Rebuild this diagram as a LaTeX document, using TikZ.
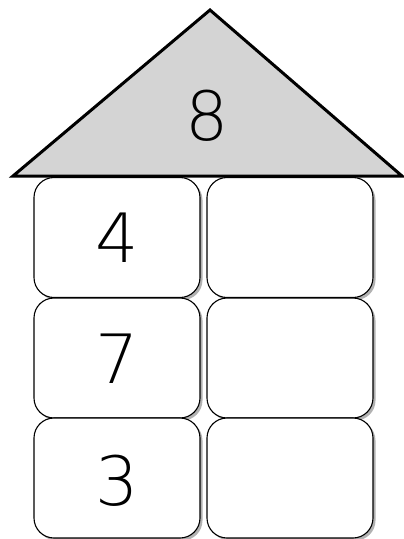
\documentclass[tikz,border=0pt]{standalone}
\usepackage{fontspec}
\setmainfont{DejaVu Sans ExtraLight}
\usetikzlibrary{shadows}
\begin{document}
\begin{tikzpicture}[x=1pt,y=-1pt,
  cell/.style={draw=black, line width=1.1pt, fill=white, rounded corners=20pt,
    minimum width=166pt, minimum height=120pt, inner sep=0pt,
    drop shadow={shadow xshift=2.5pt, shadow yshift=-2.5pt, fill=black, opacity=0.3}},
  digit/.style={font=\fontsize{68}{68}\selectfont, inner sep=0pt},
  roof/.style={draw=black, line width=3pt, fill=black!17, line join=miter}]
\useasboundingbox (0,0) rectangle (404,539);
\node[cell] (a1) at (117,237.5) {};
\node[cell] (b1) at (290,237.5) {};
\node[cell] (a2) at (117,358) {};
\node[cell] (b2) at (290,358) {};
\node[cell] (a3) at (117,478) {};
\node[cell] (b3) at (290,478) {};
\coordinate (apex) at (210,10);
\coordinate (bl) at (13,176);
\coordinate (br) at (402,176);
\draw[roof] (apex) -- (br) -- (bl) -- cycle;
\node[digit] (top) at (207,116) {8};
\node[digit] (n1) at (117,238) {4};
\node[digit] (n2) at (117,359) {7};
\node[digit] (n3) at (117,481) {3};
\end{tikzpicture}
\end{document}
